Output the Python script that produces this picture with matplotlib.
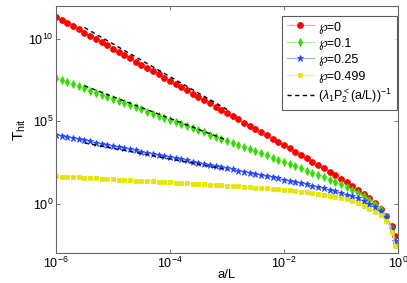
import numpy as np
import matplotlib
matplotlib.use("Agg")
import matplotlib.pyplot as plt

plt.rcParams['font.family'] = ['Liberation Sans', 'DejaVu Sans']
plt.rcParams['mathtext.fontset'] = 'custom'
plt.rcParams['mathtext.rm'] = 'Liberation Sans'
plt.rcParams['mathtext.it'] = 'Liberation Sans:italic'

# log10(a/L) sampling points
log_x = list(np.round(np.arange(-6.0, -0.05, 0.1), 2)) + [-0.05]

# log10(T_hit)
logT_p0 = [11.35, 11.16, 10.96, 10.77, 10.57, 10.38, 10.18, 9.99, 9.79, 9.60,
           9.40, 9.21, 9.01, 8.82, 8.62, 8.43, 8.23, 8.04, 7.84, 7.65,
           7.45, 7.26, 7.06, 6.87, 6.67, 6.48, 6.28, 6.09, 5.89, 5.70,
           5.50, 5.31, 5.11, 4.92, 4.72, 4.53, 4.33, 4.14, 3.94, 3.75,
           3.55, 3.35, 3.15, 2.95, 2.75, 2.55, 2.35, 2.15, 1.94, 1.73,
           1.52, 1.30, 1.08, 0.84, 0.59, 0.33, 0.03, -0.30, -0.74, -1.39,
           -1.99]
logT_p01 = [7.62, 7.49, 7.37, 7.24, 7.11, 6.99, 6.86, 6.73, 6.60, 6.48,
            6.35, 6.22, 6.10, 5.97, 5.84, 5.72, 5.59, 5.46, 5.33, 5.21,
            5.08, 4.95, 4.83, 4.70, 4.57, 4.45, 4.32, 4.19, 4.06, 3.94,
            3.81, 3.68, 3.56, 3.43, 3.30, 3.18, 3.05, 2.92, 2.79, 2.67,
            2.53, 2.40, 2.27, 2.14, 2.00, 1.87, 1.74, 1.60, 1.46, 1.31,
            1.16, 1.00, 0.84, 0.66, 0.46, 0.24, -0.02, -0.34, -0.79, -1.52,
            -2.25]
logT_p025 = [4.18, 4.11, 4.04, 3.98, 3.91, 3.84, 3.77, 3.70, 3.64, 3.57,
             3.50, 3.43, 3.36, 3.30, 3.23, 3.16, 3.09, 3.02, 2.96, 2.89,
             2.82, 2.75, 2.68, 2.62, 2.55, 2.48, 2.41, 2.34, 2.28, 2.21,
             2.14, 2.07, 2.00, 1.94, 1.87, 1.80, 1.73, 1.66, 1.60, 1.53,
             1.45, 1.38, 1.30, 1.24, 1.16, 1.08, 1.00, 0.92, 0.84, 0.75,
             0.66, 0.55, 0.44, 0.32, 0.17, -0.01, -0.22, -0.46, -0.84, -1.55,
             -2.28]
logT_p0499 = [1.66, 1.64, 1.62, 1.61, 1.59, 1.57, 1.55, 1.53, 1.52, 1.50,
              1.48, 1.46, 1.44, 1.42, 1.40, 1.38, 1.36, 1.35, 1.33, 1.31,
              1.29, 1.27, 1.25, 1.23, 1.21, 1.19, 1.17, 1.15, 1.13, 1.11,
              1.09, 1.07, 1.05, 1.02, 1.00, 0.97, 0.95, 0.92, 0.89, 0.86,
              0.83, 0.80, 0.76, 0.72, 0.68, 0.64, 0.60, 0.55, 0.49, 0.43,
              0.36, 0.26, 0.14, 0.01, -0.14, -0.30, -0.49, -0.71, -1.05, -1.70,
              -2.55]

# asymptotes (lambda_1 P_2^<(a/L))^-1, end points
dash_log_x = [-5.5, -2.99]
dash_p0 = [10.69, 5.70]
dash_p01 = [7.15, 3.84]
dash_p025 = [3.68, 2.06]

series = [
    (logT_p0, '℘=0', 'o', '#ff0000', '#ffaaaa', 4.2),
    (logT_p01, '℘=0.1', 'd', '#33dd00', '#99ee88', 3.9),
    (logT_p025, '℘=0.25', '*', '#2244ff', '#99aaff', 4.8),
    (logT_p0499, '℘=0.499', 's', '#e6e600', '#eeee99', 3.4),
]

fig = plt.figure(figsize=(4.07, 2.83), dpi=100)
ax = fig.add_axes([0.1376, 0.106, 0.840, 0.873])

x = 10 ** np.array(log_x)
for vals, lab, mk, c, lc, ms in series:
    ax.plot(x, 10 ** np.array(vals), color=lc, lw=0.8, marker=mk, ms=ms,
            mfc=c, mec=c, mew=0.6, label=lab)

xd = 10 ** np.array(dash_log_x)
for i, d in enumerate([dash_p0, dash_p01, dash_p025]):
    ax.plot(xd, 10 ** np.array(d), 'k--', lw=1.0, dashes=(3, 2.5),
            label=r'$(\lambda_1\mathrm{P}_2^<(\mathrm{a/L}))^{-1}$' if i == 0 else None)

ax.set_xscale('log')
ax.set_yscale('log')
ax.set_xlim(1e-6, 1)
ax.set_ylim(1e-3, 1e12)
ax.set_xticks([1e-6, 1e-4, 1e-2, 1])
ax.set_yticks([1e0, 1e5, 1e10])
ax.minorticks_off()
ax.tick_params(direction='in', top=True, right=True, length=3, width=0.6,
               color='#666666', labelsize=9, pad=2)
for s in ax.spines.values():
    s.set_color('#666666')
    s.set_linewidth(0.8)

ax.set_xlabel('a/L', fontsize=9.5, labelpad=-1.5)
ax.set_ylabel(r'$\mathrm{T}_{\mathrm{hit}}$', fontsize=11, labelpad=0)

leg = ax.legend(loc='upper right', bbox_to_anchor=(0.997, 0.96), fontsize=9,
                frameon=True, fancybox=False, edgecolor='#333333',
                handlelength=2.2, handletextpad=0.3, labelspacing=0.35,
                borderpad=0.4, borderaxespad=0)
leg.get_frame().set_linewidth(0.8)

fig.savefig('out.png', dpi=100)
